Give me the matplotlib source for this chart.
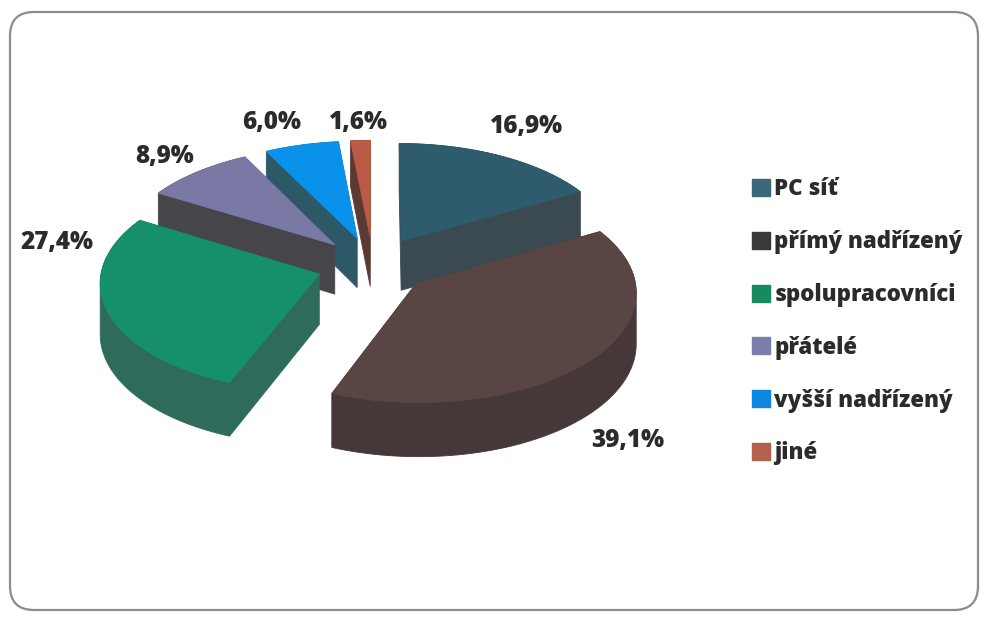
import matplotlib.pyplot as plt
import numpy as np
from matplotlib.patches import Polygon, FancyBboxPatch, Patch

plt.rcParams['font.family'] = ['Open Sans', 'DejaVu Sans']

# data
categories = ["PC síť", "přímý nadřízený", "spolupracovníci", "přátelé", "vyšší nadřízený", "jiné"]
shares = [16.9, 39.1, 27.4, 8.9, 6.0, 1.6]
value_labels = ["16,9%", "39,1%", "27,4%", "8,9%", "6,0%", "1,6%"]

# styling
top_colors = ["#2f5c6c", "#5a4545", "#16906a", "#7a79a6", "#0a92ea", "#bb5a45"]
side_colors = ["#3a4a50", "#463838", "#2f6b5b", "#46464a", "#2c5868", "#5a3a32"]
legend_colors = ["#3b6878", "#3b3838", "#178a5f", "#7b7dad", "#0d86e2", "#b5604f"]
label_xy = [(527, 126), (628, 440), (57, 243), (165, 157), (272, 122), (358, 122)]
text_color = "#2b2b2b"

# 3d pie geometry (pixels)
cx, cy = 373, 265
R = 217
tilt = 0.5
persp = 0.07
depth = 50
explode = 0.26


def project(u, v):
    f = 1 - persp * v
    return cx + R * u * f, cy - R * tilt * v * f, f


def convex_hull(pts):
    pts = sorted(set(map(tuple, np.round(pts, 3))))

    def cross(o, a, b):
        return (a[0] - o[0]) * (b[1] - o[1]) - (a[1] - o[1]) * (b[0] - o[0])

    lower, upper = [], []
    for p in pts:
        while len(lower) >= 2 and cross(lower[-2], lower[-1], p) <= 0:
            lower.pop()
        lower.append(p)
    for p in reversed(pts):
        while len(upper) >= 2 and cross(upper[-2], upper[-1], p) <= 0:
            upper.pop()
        upper.append(p)
    return np.array(lower[:-1] + upper[:-1])


fig = plt.figure(figsize=(9.85, 6.19), dpi=100)
ax = fig.add_axes([0, 0, 1, 1])
ax.set_xlim(0, 985)
ax.set_ylim(619, 0)
ax.axis('off')

ax.add_patch(FancyBboxPatch((10, 12), 968, 598, boxstyle="round,pad=0,rounding_size=24",
                            ec="#8c8c8c", fc="white", lw=1.6))

fracs = np.array(shares) / sum(shares)
ends = np.cumsum(fracs) * 360
starts = ends - fracs * 360
mids = (starts + ends) / 2

# back wedges first
order = np.argsort(-np.cos(np.radians(mids)))
for i in order:
    th = np.radians(np.linspace(starts[i], ends[i], 90))
    b = np.radians(mids[i])
    u = np.concatenate([[0], np.sin(th)]) + explode * np.sin(b)
    v = np.concatenate([[0], np.cos(th)]) + explode * np.cos(b)
    X, Y, f = project(u, v)
    top = np.column_stack([X, Y])
    bottom = np.column_stack([X, Y + depth * f])
    body = convex_hull(np.vstack([top, bottom]))
    ax.add_patch(Polygon(body, closed=True, fc=side_colors[i], ec=side_colors[i], lw=0.6))
    ax.add_patch(Polygon(top, closed=True, fc=top_colors[i], ec=top_colors[i], lw=0.6))

for (x, y), txt in zip(label_xy, value_labels):
    ax.text(x, y, txt, ha='center', va='center', fontsize=17.5, fontweight='heavy', color=text_color)

handles = [Patch(fc=c, ec=c) for c in legend_colors]
ax.legend(handles, categories, loc='upper left', bbox_to_anchor=(732, 157),
          bbox_transform=ax.transData, frameon=False,
          handlelength=0.8, handleheight=0.8, handletextpad=0.2,
          labelspacing=1.3, labelcolor=text_color, prop={'weight': 'heavy', 'size': 16})

fig.savefig("out.png", dpi=100)
